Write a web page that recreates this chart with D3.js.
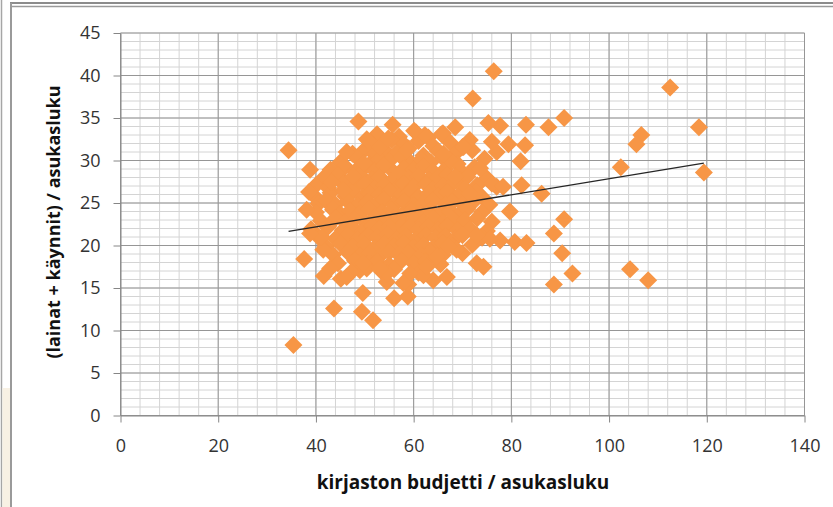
<!DOCTYPE html>
<html>
<head>
<meta charset="utf-8">
<script src="https://cdn.jsdelivr.net/npm/d3@7"></script>
<style>
  html, body { margin: 0; padding: 0; background: #fff; }
  svg { display: block; }
</style>
</head>
<body>
<svg id="chart" width="833" height="507"></svg>
<script>
// x = kirjaston budjetti / asukasluku, y = (lainat + käynnit) / asukasluku
const denseCloud = [
  [52.5,33.1],[57,32.8],[60.5,33.3],[63,32.7],[66,33.2],
  [51,32.2],[53.5,31.8],[55.5,32.4],[58,31.9],[61,32.3],[64,31.7],[67.5,32.1],[70,31.6],
  [47.5,30.8],[50,31.3],[52,30.7],[54,31.2],[56.5,30.9],[59,31.4],[62,30.6],[65,31.1],[68.5,30.8],[72,31.2],
  [45,29.8],[48.5,30.3],[51,29.6],[53,30.2],[55,29.9],[57.5,30.4],[59.5,29.7],[61.5,30.1],[63.5,29.8],[66,30.3],[69,29.6],[74.5,30.2],
  [43,28.9],[46,29.3],[48,28.7],[50,29.2],[52,28.8],[54,29.4],[56,28.6],[58,29.1],[60,28.9],[62,29.3],[64,28.7],[66.5,29.0],[70,28.6],[72.5,29.2],
  [41.5,27.9],[44.5,28.2],[47,27.7],[49,28.3],[51.5,27.8],[53,28.1],[55.5,27.6],[57,28.4],[59,27.9],[61,28.2],[63,27.7],[65,28.0],[67,28.3],[69.5,27.8],[71,28.1],[75,27.9],
  [40,27.1],[42.5,26.8],[45.5,27.3],[48,26.9],[50,27.2],[52,26.7],[54,27.1],[56.5,26.8],[58,27.3],[60,26.9],[62.5,27.2],[64,26.6],[66,27.0],[68,27.3],[70.5,26.7],[73,27.1],[77,26.9],
  [39.5,25.9],[43,26.2],[46,25.8],[47.5,26.3],[49.5,25.7],[51,26.1],[53,25.9],[55,26.4],[57,25.8],[59,26.2],[61,25.7],[63,26.1],[65,25.9],[67,26.3],[69,25.8],[71.5,26.0],[74,25.7],
  [40.5,24.9],[42,25.3],[44,24.8],[46.5,25.2],[48.5,24.7],[50.5,25.1],[52.5,24.9],[54,25.4],[56,24.8],[58,25.2],[60,24.7],[62,25.0],[64,25.3],[66.5,24.8],[68,25.1],[70,24.9],[72.5,25.3],[75.5,24.8],
  [40,23.9],[43.5,24.2],[45,23.7],[47,24.1],[49,23.8],[51,24.3],[53.5,23.9],[55.5,24.2],[57.5,23.6],[59.5,24.1],[61.5,23.8],[63.5,24.2],[65.5,23.7],[67.5,24.0],[69.5,23.8],[71,24.3],[74,23.9],
  [41,22.9],[44,23.2],[46,22.7],[48,23.1],[50,22.8],[52,23.3],[54.5,22.9],[56,23.2],[58,22.6],[60,23.0],[62,22.8],[64,23.2],[66,22.7],[68,23.1],[70.5,22.9],[73,23.2],[76,22.8],
  [39,21.9],[42.5,22.2],[45.5,21.8],[47.5,22.1],[49.5,21.7],[51.5,22.3],[53,21.9],[55,22.2],[57,21.7],[59,22.1],[61,21.8],[63,22.2],[65,21.9],[67,22.3],[69,21.8],[71.5,22.0],[75,21.7],
  [40.5,21.0],[44,20.8],[46.5,21.2],[48.5,20.7],[50.5,21.1],[52.5,20.9],[54.5,21.3],[56.5,20.8],[58.5,21.1],[60.5,20.7],[62.5,21.2],[64.5,20.9],[66.5,21.1],[68.5,20.8],[70,21.2],[74,20.9],
  [42,19.9],[45,20.2],[47.5,19.8],[50,20.1],[52,19.7],[54,20.2],[56,19.9],[58,20.3],[60,19.8],[62,20.1],[64,19.7],[66,20.2],[68,19.9],[72,20.1],
  [43.5,18.9],[46.5,19.2],[49,18.8],[51,19.1],[53,18.7],[55,19.2],[57,18.9],[59,19.1],[61.5,18.8],[63.5,19.2],[66,18.9],[70,19.1],
  [44.5,17.9],[48,18.2],[50.5,17.8],[52.5,18.1],[55,17.7],[57.5,18.2],[60,17.9],[62.5,18.1],[65.5,17.8],
  [49,17.1],[53.5,16.9],[56,17.2],[61,16.8]
];

const upperEdge = [
  [76.4,40.5],[72.1,37.3],[90.8,35.0],[87.6,33.9],[83.0,34.2],[82.8,31.8],[81.9,29.9],[79.4,31.9],
  [77.0,31.0],[76.0,32.2],[77.7,34.1],[75.3,34.4],[71.5,32.4],[70.2,31.6],[68.5,33.9],[65.7,33.1],
  [62.3,33.0],[60.1,33.5],[55.7,34.2],[48.7,34.6],[50.4,32.5],[46.3,31.0],[34.4,31.2],[38.8,28.9],
  [43.2,27.5],[38.6,26.3],[38.1,24.2],[79.7,24.0],[73.6,29.1],[76.0,27.3],[78.3,26.9],[72.9,26.3],
  [71.5,26.1],[68.5,28.1],[67.4,30.1],[66.1,30.8],[53.1,31.6],[54.8,32.6],[58.6,31.2],[45.6,26.5],
  [49.7,29.7],[47.6,28.1],[86.2,26.1],[82.1,27.1]
];

const lowerEdge = [
  [35.4,8.3],[37.6,18.4],[41.6,16.4],[43.7,12.6],[45.1,16.1],[49.6,14.4],[49.4,12.2],[51.7,11.2],
  [56.0,13.8],[58.8,14.0],[58.9,15.4],[54.5,15.7],[50.4,17.3],[47.3,16.9],[42.9,17.3],[66.8,16.3],
  [64.0,15.9],[62.0,16.5],[72.9,17.9],[74.3,17.5],[80.7,20.4],[83.1,20.3],[77.7,20.6],[75.6,20.8],
  [72.9,21.2],[68.8,19.5],[67.1,19.9],[64.7,18.7],[62.7,17.5],[59.3,16.7],[57.9,15.6],[54.5,16.7],
  [53.1,17.3],[49.7,17.9],[46.3,16.3],[41.5,19.5],[41.2,21.0],[38.8,21.4]
];

const farRight = [
  [112.5,38.6],[118.4,33.9],[106.6,33.0],[105.6,31.9],[102.4,29.2],[119.4,28.6],[104.3,17.2],
  [108.0,15.9],[92.5,16.7],[88.7,15.4],[90.8,23.1],[88.7,21.4],[90.4,19.1]
];

const xTicks = [0, 20, 40, 60, 80, 100, 120, 140];
const yTicks = [0, 5, 10, 15, 20, 25, 30, 35, 40, 45];

// linear trendline
const trendSlope = 0.0943;
const trendIntercept = 18.42;

const xTitle = 'kirjaston budjetti / asukasluku';
const yTitle = '(lainat + käynnit) / asukasluku';

const points = denseCloud.concat(upperEdge, lowerEdge, farRight);

const svg = d3.select('#chart');

// window frame bits around the chart
svg.append('line').attr('x1', 1.5).attr('x2', 1.5).attr('y1', 0).attr('y2', 507)
  .attr('stroke', '#a6a6a6').attr('stroke-width', 1.5);
svg.append('rect').attr('x', 2.5).attr('y', 388).attr('width', 8).attr('height', 119)
  .attr('fill', '#f8f1e4');
svg.append('line').attr('x1', 10).attr('x2', 833).attr('y1', 3).attr('y2', 3)
  .attr('stroke', '#8c8c8c').attr('stroke-width', 2);
svg.append('line').attr('x1', 11).attr('x2', 833).attr('y1', 6.5).attr('y2', 6.5)
  .attr('stroke', '#9a9a9a').attr('stroke-width', 1.5);
svg.append('line').attr('x1', 11).attr('x2', 11).attr('y1', 3).attr('y2', 507)
  .attr('stroke', '#9a9a9a').attr('stroke-width', 2);

const x = d3.scaleLinear().domain([0, 140]).range([120.5, 804.5]);
const y = d3.scaleLinear().domain([0, 45]).range([415.5, 33]);

const grid = svg.append('g');

// minor gridlines
grid.selectAll('.vminor')
  .data(d3.range(0, 141, 4))
  .enter().append('line')
  .attr('x1', d => x(d)).attr('x2', d => x(d))
  .attr('y1', y(0)).attr('y2', y(45))
  .attr('stroke', '#d4d4d4').attr('stroke-width', 1);

grid.selectAll('.hminor')
  .data(d3.range(0, 46, 1))
  .enter().append('line')
  .attr('x1', x(0)).attr('x2', x(140))
  .attr('y1', d => y(d)).attr('y2', d => y(d))
  .attr('stroke', '#d4d4d4').attr('stroke-width', 1);

// major gridlines
grid.selectAll('.vmajor')
  .data(xTicks)
  .enter().append('line')
  .attr('x1', d => x(d)).attr('x2', d => x(d))
  .attr('y1', y(0)).attr('y2', y(45))
  .attr('stroke', '#969696').attr('stroke-width', 1);

grid.selectAll('.hmajor')
  .data(yTicks)
  .enter().append('line')
  .attr('x1', x(0)).attr('x2', x(140))
  .attr('y1', d => y(d)).attr('y2', d => y(d))
  .attr('stroke', '#969696').attr('stroke-width', 1);

// axes
const xAxis = d3.axisBottom(x).tickValues(xTicks).tickSize(7).tickSizeOuter(0).tickPadding(17);
const yAxis = d3.axisLeft(y).tickValues(yTicks).tickSize(7).tickSizeOuter(0).tickPadding(13);

const gx = svg.append('g').attr('transform', `translate(0, ${y(0)})`).call(xAxis);
const gy = svg.append('g').attr('transform', `translate(${x(0)}, 0)`).call(yAxis);

[gx, gy].forEach(g => {
  g.select('.domain').attr('stroke', '#868686');
  g.selectAll('.tick line').attr('stroke', '#868686');
  g.selectAll('.tick text')
    .attr('fill', '#333')
    .style('font-family', '"Open Sans", sans-serif')
    .style('font-size', '18px');
});

// markers
const diamond = d3.symbol().type(d3.symbolSquare).size(162);

svg.append('g')
  .selectAll('path')
  .data(points)
  .enter().append('path')
  .attr('d', diamond)
  .attr('transform', d => `translate(${x(d[0])}, ${y(d[1])}) rotate(45)`)
  .attr('fill', '#f79646');

// trendline
const xr = d3.extent(points, d => d[0]);
const trend = d3.line()
  .x(d => x(d))
  .y(d => y(trendIntercept + trendSlope * d));

svg.append('path')
  .datum(xr)
  .attr('d', trend)
  .attr('fill', 'none')
  .attr('stroke', '#262626')
  .attr('stroke-width', 1.3);

// axis titles
svg.append('text')
  .attr('x', 463).attr('y', 489)
  .attr('text-anchor', 'middle')
  .style('font-family', '"Open Sans", sans-serif')
  .style('font-weight', 'bold')
  .style('font-size', '19px')
  .attr('fill', '#111')
  .text(xTitle);

svg.append('text')
  .attr('transform', 'translate(60, 222) rotate(-90)')
  .attr('text-anchor', 'middle')
  .style('font-family', '"Open Sans", sans-serif')
  .style('font-weight', 'bold')
  .style('font-size', '18px')
  .attr('fill', '#111')
  .text(yTitle);
</script>
</body>
</html>
